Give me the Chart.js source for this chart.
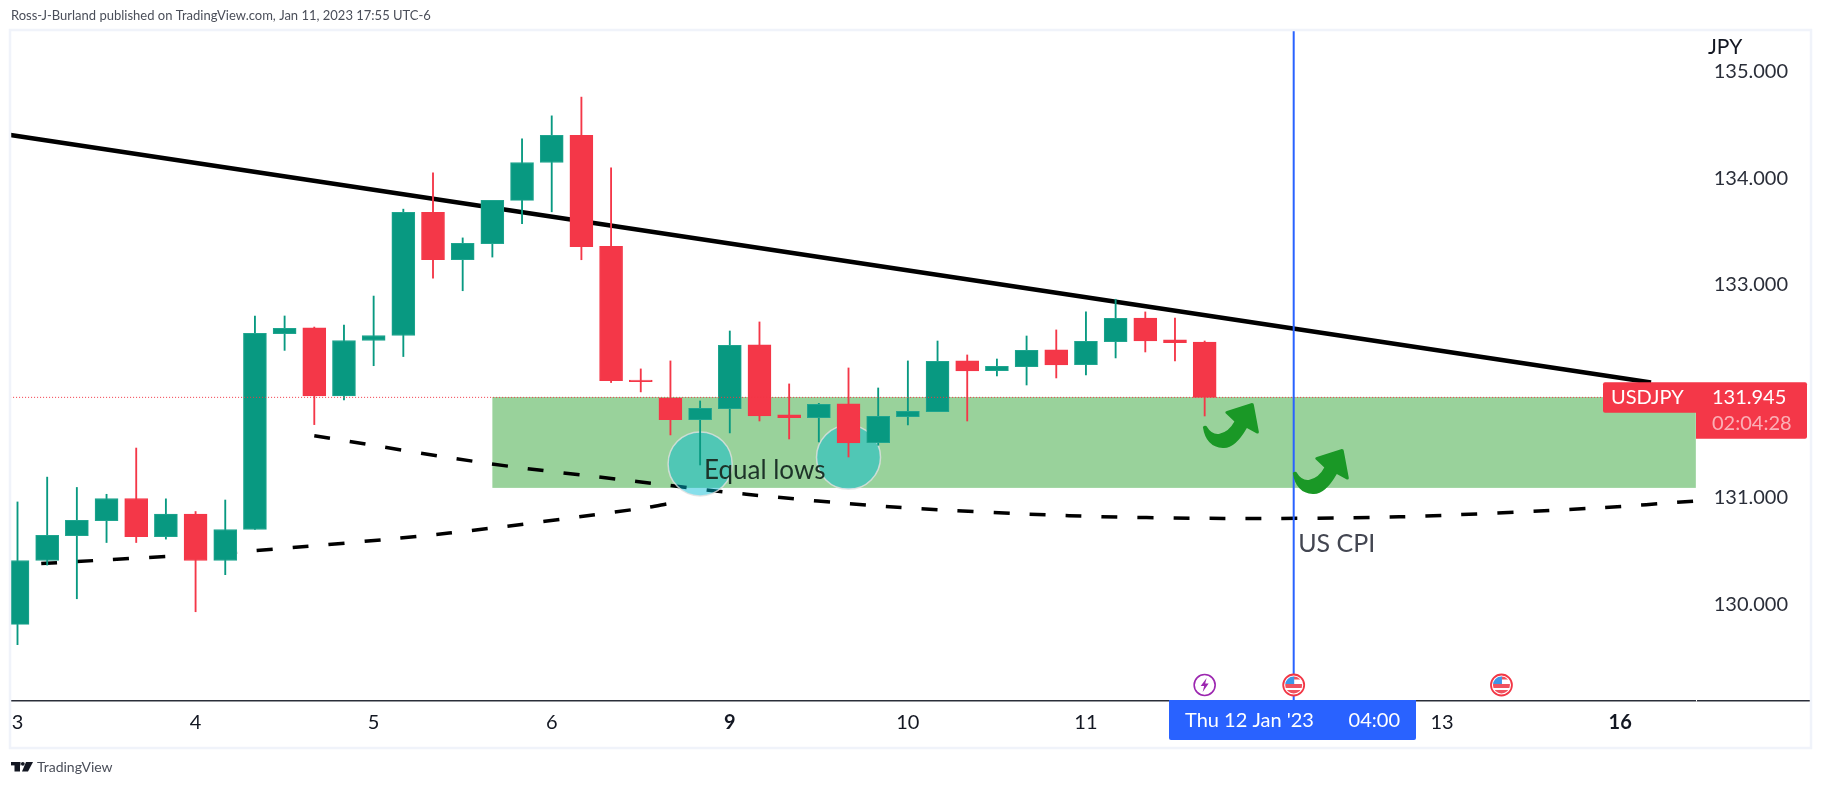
<!DOCTYPE html>
<html><head><meta charset="utf-8">
<style>html,body{margin:0;padding:0;background:#fff}canvas{display:block}</style>
<script src="https://cdn.jsdelivr.net/npm/chart.js@4"></script>
</head><body><canvas id="c" width="1823" height="787"></canvas>
<script>
const candleIdx = [...Array(41).keys()];
const opens = [129.813,130.413,130.647,130.787,130.995,130.636,130.848,130.413,130.704,132.544,132.598,131.958,132.479,132.526,133.683,133.237,133.388,133.794,134.150,134.405,133.363,132.108,131.939,131.736,131.839,132.437,131.780,131.755,131.883,131.520,131.764,131.811,132.287,132.196,132.233,132.390,132.252,132.468,132.690,132.484,132.465];
const closes = [130.413,130.650,130.790,130.995,130.636,130.848,130.413,130.704,132.547,132.594,131.958,132.479,132.526,133.683,133.237,133.392,133.794,134.150,134.405,133.360,132.102,132.093,131.736,131.842,132.434,131.770,131.755,131.880,131.517,131.767,131.814,132.284,132.193,132.237,132.387,132.249,132.471,132.687,132.474,132.459,131.945];
const highs = [130.963,131.196,131.099,131.035,131.469,130.992,130.873,130.981,132.709,132.709,132.605,132.623,132.896,133.712,134.053,133.442,133.794,134.373,134.588,134.764,134.100,132.212,132.287,131.911,132.568,132.653,132.071,131.889,132.221,132.033,132.287,132.474,132.343,132.305,132.521,132.578,132.747,132.866,132.747,132.690,132.474];
const lows = [129.623,130.370,130.054,130.582,130.582,130.614,129.932,130.280,130.704,132.386,131.689,131.922,132.242,132.328,133.065,132.946,133.262,133.575,133.687,133.237,132.084,131.996,131.592,131.310,131.611,131.723,131.554,131.526,131.385,131.495,131.686,131.811,131.723,132.146,132.061,132.127,132.155,132.315,132.371,132.287,131.770];

const xTickIdx = [0,6,12,18,24,30,36,48,54];
const xTickLabels = ['3','4','5','6','9','10','11','13','16'];
const xBoldLabels = ['9','16'];
const yTickVals = [130,131,133,134,135];

const resistanceIdx = [-0.236,55.04];
const resistanceVal = [134.408,132.085];
const supportUpIdx = [0.8,7.66,14.54,21,22];
const supportUpVal = [130.384,130.499,130.671,130.901,130.95];
const supportDownIdx = [10,15.92,20.87,24.56,29.38,35.43,40.65,46.55,53.2,56.55];
const supportDownVal = [131.584,131.322,131.155,131.035,130.918,130.834,130.808,130.823,130.906,130.972];
const priceLineIdx = [-0.25,53.6];
const lastPrice = 131.945;
const cpiIdx = 43;
const zoneIdx = [16,56.55];
const zoneVal = [131.948,131.095];
const circleIdx = [23,28];
const circleVal = [131.32,131.382];
const arrowIdx = [39.94,42.97];
const arrowVal = [131.892,131.46];
const eventIdx = [40,43,50];
const eventKind = ['bolt','us','us'];
const xMin=-0.2527, xMax=60.43, yMin=129.094, yMax=135.394;

const toXY=(xs,ys)=>xs.map((x,i)=>({x,y:ys[i]}));
const UP='#089981', DOWN='#f43748', UPB='#1fa58f';
const FONT='Lato, "Open Sans", sans-serif';

const overlay={
  id:'overlay',
  beforeDatasetsDraw(ch){
    const {ctx,scales:{x,y}}=ch;
    ctx.save();
    ctx.fillStyle='rgba(76,175,80,.57)';
    const l=x.getPixelForValue(zoneIdx[0]),r=x.getPixelForValue(zoneIdx[1]);
    const t=y.getPixelForValue(zoneVal[0]),b=y.getPixelForValue(zoneVal[1]);
    ctx.fillRect(l,t,r-l,b-t);
    ctx.restore();
  },
  afterDatasetsDraw(ch){
    const {ctx,scales:{x,y},chartArea:ca}=ch;
    ctx.save();
    // curved arrows
    arrowIdx.forEach((ix,i)=>{
      const ox=x.getPixelForValue(ix),oy=y.getPixelForValue(arrowVal[i]);
      ctx.save();ctx.translate(ox,oy);
      ctx.fillStyle='#1a9826';
      ctx.beginPath();
      ctx.moveTo(0,24);ctx.quadraticCurveTo(1.5,22,3.5,23);
      ctx.quadraticCurveTo(9,32,16,31);
      ctx.quadraticCurveTo(26,29,31.5,18.5);
      ctx.lineTo(22.5,10);ctx.quadraticCurveTo(22,8.5,24,8);
      ctx.lineTo(49,0);ctx.quadraticCurveTo(51,0,51,2);
      ctx.lineTo(56,29);ctx.quadraticCurveTo(56,31,54,30.5);
      ctx.lineTo(44,25);
      ctx.quadraticCurveTo(32,46,20,45);
      ctx.quadraticCurveTo(3,44,0,24);
      ctx.closePath();ctx.fill();
      ctx.restore();
    });
    // notes
    ctx.textBaseline='middle';ctx.textAlign='left';
    ctx.font='26px '+FONT;ctx.fillStyle='#1d3329';
    ctx.fillText('Equal lows',x.getPixelForValue(23.13),y.getPixelForValue(131.26));
    ctx.font='25px '+FONT;ctx.fillStyle='#434651';
    ctx.fillText('US CPI',x.getPixelForValue(43.15),y.getPixelForValue(130.57));
    ctx.font='21px '+FONT;ctx.fillStyle='#131722';
    ctx.fillText('JPY',1708,47);
    // last-price tags
    ctx.fillStyle='#f43748';
    const py=y.getPixelForValue(lastPrice);
    ctx.beginPath();ctx.roundRect(1603,py-15,93,30.5,[2,0,0,2]);ctx.fill();
    ctx.beginPath();ctx.roundRect(1696,py-15,111,56.5,[0,2,2,0]);ctx.fill();
    ctx.font='20px '+FONT;ctx.fillStyle='#fff';
    ctx.fillText('USDJPY',1611,py+0.5);
    ctx.fillText(lastPrice.toFixed(3),1712,py+0.5);
    ctx.fillStyle='rgba(255,255,255,.6)';
    ctx.fillText('02:04:28',1712,py+26.5);
    // event icons
    eventIdx.forEach((ix,i)=>{
      const cx=x.getPixelForValue(ix),cy=685,r=10.5;
      ctx.save();
      ctx.beginPath();ctx.arc(cx,cy,r,0,Math.PI*2);ctx.fillStyle='#fff';ctx.fill();
      if(eventKind[i]==='bolt'){
        ctx.strokeStyle='#9c27b0';ctx.lineWidth=1.6;ctx.stroke();
        ctx.fillStyle='#9c27b0';ctx.beginPath();
        ctx.moveTo(cx+2,cy-7);ctx.lineTo(cx-4,cy+1);ctx.lineTo(cx-0.5,cy+1);
        ctx.lineTo(cx-2,cy+7);ctx.lineTo(cx+4,cy-1.5);ctx.lineTo(cx+0.5,cy-1.5);ctx.closePath();ctx.fill();
      }else{
        ctx.save();ctx.beginPath();ctx.arc(cx,cy,r-2,0,Math.PI*2);ctx.clip();
        ctx.fillStyle='#f0525f';
        ctx.fillRect(cx-9,cy-1,18,4);ctx.fillRect(cx-9,cy+5,18,5);ctx.fillRect(cx,cy-9,9,3.5);
        ctx.fillStyle='#3d96e8';ctx.fillRect(cx-9,cy-9,9.5,8);
        ctx.restore();
        ctx.beginPath();ctx.arc(cx,cy,r,0,Math.PI*2);
        ctx.strokeStyle='#f23645';ctx.lineWidth=1.8;ctx.stroke();
      }
      ctx.restore();
    });
    ctx.restore();
  },
  afterDraw(ch){
    const {ctx,scales:{x}}=ch;
    ctx.save();
    // crosshair date tag
    ctx.fillStyle='#2962ff';
    ctx.beginPath();ctx.roundRect(1169,700,247,40,[0,0,2,2]);ctx.fill();
    ctx.fillStyle='#fff';ctx.font='20px '+FONT;ctx.textBaseline='middle';ctx.textAlign='left';
    ctx.fillText("Thu 12 Jan '23",1185,721);
    ctx.textAlign='right';ctx.fillText('04:00',1400,721);
    // price-axis notch
    ctx.fillStyle='#fff';ctx.fillRect(1696,699.5,1,2);
    // frame
    ctx.strokeStyle='#f0f3fa';ctx.lineWidth=2.5;
    ctx.strokeRect(10,30,1801,718);
    // header & logo
    ctx.fillStyle='#4a4e59';ctx.font='13px '+FONT;ctx.textAlign='left';
    ctx.fillText('Ross-J-Burland published on TradingView.com, Jan 11, 2023 17:55 UTC-6',11,16);
    ctx.fillStyle='#131722';
    ctx.fillRect(11,762,9.5,3.4);ctx.fillRect(14.5,762,5.5,9.5);
    ctx.beginPath();ctx.arc(22.8,763.8,1.9,0,Math.PI*2);ctx.fill();
    ctx.beginPath();ctx.moveTo(26,762);ctx.lineTo(33,762);ctx.lineTo(28,771.5);ctx.lineTo(22,771.5);ctx.closePath();ctx.fill();
    ctx.fillStyle='#4a4e59';ctx.font='14px '+FONT;
    ctx.fillText('TradingView',37,767.5);
    ctx.restore();
  }
};

new Chart(document.getElementById('c'),{
  type:'bar',
  data:{datasets:[
    {type:'line',data:toXY(resistanceIdx,resistanceVal),borderColor:'#000',borderWidth:4.5,pointRadius:0,order:9},
    {type:'line',data:toXY(supportUpIdx,supportUpVal),borderColor:'#000',borderWidth:3.5,borderDash:[16,20],pointRadius:0,tension:.3,order:9},
    {type:'line',data:toXY(supportDownIdx,supportDownVal),borderColor:'#000',borderWidth:3.5,borderDash:[16,20],pointRadius:0,tension:.3,order:9},
    {type:'scatter',data:toXY(circleIdx,circleVal),pointRadius:32,pointBackgroundColor:'rgba(0,188,212,.47)',pointBorderColor:'rgba(225,225,225,.8)',pointBorderWidth:1.5,order:7},
    {type:'bar',data:candleIdx.map(i=>({x:i,y:[lows[i],highs[i]]})),grouped:false,barThickness:1.2,
      backgroundColor:candleIdx.map(i=>closes[i]>=opens[i]?UP:DOWN),borderWidth:0,order:5},
    {type:'bar',data:candleIdx.map(i=>({x:i,y:[opens[i],closes[i]]})),grouped:false,barThickness:23,
      backgroundColor:candleIdx.map(i=>closes[i]>=opens[i]?UP:DOWN),
      borderColor:candleIdx.map(i=>closes[i]>=opens[i]?UPB:DOWN),borderWidth:1,borderSkipped:false,order:4},
    {type:'line',data:toXY(priceLineIdx,[lastPrice,lastPrice]),borderColor:'#f23645',borderWidth:1,borderDash:[1,2],pointRadius:0,order:3},
    {type:'line',data:toXY([cpiIdx,cpiIdx],[yMin,yMax]),borderColor:'#2962ff',borderWidth:2,pointRadius:0,order:2}
  ]},
  options:{
    responsive:false,animation:false,
    layout:{autoPadding:false,padding:{left:10,top:30,right:12,bottom:39}},
    plugins:{legend:{display:false},tooltip:{enabled:false},title:{display:false}},
    scales:{
      x:{type:'linear',offset:false,min:xMin,max:xMax,
        grid:{display:false,offset:false,drawTicks:false},
        border:{display:true,color:'#2a2e39',width:1.5},
        afterBuildTicks:s=>{s.ticks=xTickIdx.map(value=>({value}))},
        afterFit:s=>{s.height=47;s.paddingLeft=0;s.paddingRight=0},
        ticks:{autoSkip:false,maxRotation:0,padding:10,color:'#131722',
          font:c=>({family:FONT,size:20,weight:xBoldLabels.includes(xTickLabels[xTickIdx.indexOf(c.tick&&c.tick.value)])?'bold':'normal'}),
          callback:v=>xTickLabels[xTickIdx.indexOf(v)]}
      },
      y:{type:'linear',position:'right',min:yMin,max:yMax,
        grid:{display:false,drawTicks:false},border:{display:false},
        afterBuildTicks:s=>{s.ticks=yTickVals.map(value=>({value}))},
        afterFit:s=>{s.width=0;s.paddingTop=0;s.paddingBottom=0},
        ticks:{mirror:true,padding:-23,color:'#2a2e39',font:{family:FONT,size:20},callback:v=>v.toFixed(3)}
      }
    }
  },
  plugins:[overlay]
});
</script></body></html>
